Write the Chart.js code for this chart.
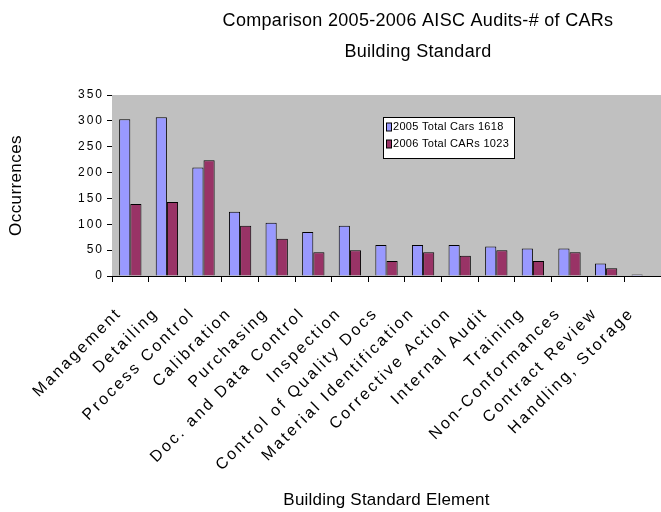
<!DOCTYPE html>
<html>
<head>
<meta charset="utf-8">
<script src="https://cdn.jsdelivr.net/npm/chart.js@4.4.1/dist/chart.umd.min.js"></script>
<style>
  html, body { margin: 0; padding: 0; background: #ffffff; }
  #wrap { width: 661px; height: 512px; position: relative; }
</style>
</head>
<body>
<div id="wrap"><canvas id="chart" width="661" height="512"></canvas></div>
<script>
// ---- data ----
const categories = [
  'Management', 'Detailing', 'Process Control', 'Calibration', 'Purchasing',
  'Doc. and Data Control', 'Inspection', 'Control of Quality Docs',
  'Material Identification', 'Corrective Action', 'Internal Audit', 'Training',
  'Non-Conformances', 'Contract Review', 'Handling, Storage'
];
const cars2005 = [303, 307, 210, 124, 103, 85, 97, 60, 60, 60, 57, 53, 53, 24, 3];
const cars2006 = [139, 143, 224, 97, 72, 46, 50, 29, 46, 39, 50, 29, 46, 15, 0];
const seriesLabels = ['2005 Total Cars 1618', '2006 Total CARs 1023'];
const yTicks = [0, 50, 100, 150, 200, 250, 300, 350];
const titleLines = ['Comparison 2005-2006 AISC Audits-# of CARs', 'Building Standard'];
const xAxisTitle = 'Building Standard Element';
const yAxisTitle = 'Occurrences';

// ---- styling ----
const FONT = "'Liberation Sans', Arial, sans-serif";
const BLUE = '#9999ff';
const PLUM = '#993366';
const PLOT_GREY = '#c0c0c0';

// Draw a piece of canvas text with extra tracking between letters.
function withSpacing(ctx, px, draw) {
  const prev = ctx.letterSpacing;
  ctx.letterSpacing = px + 'px';
  try { draw(); } finally { ctx.letterSpacing = prev || '0px'; }
}

// Category axis with tracked labels; the slanted labels hang to the left of
// their ticks, so no extra room is reserved on the right edge.
class SpacedCategoryScale extends Chart.CategoryScale {
  static id = 'spacedCategory';
  static defaults = Chart.CategoryScale.defaults;
  _calculatePadding(...args) { super._calculatePadding(...args); this.paddingRight = 0; }
  drawLabels(area) { withSpacing(this.ctx, 2.5, () => super.drawLabels(area)); }
  drawTitle() { withSpacing(this.ctx, 0.2, () => super.drawTitle()); }
}
class SpacedLinearScale extends Chart.LinearScale {
  static id = 'spacedLinear';
  static defaults = Chart.LinearScale.defaults;
  drawLabels(area) { withSpacing(this.ctx, 2, () => super.drawLabels(area)); }
  drawTitle() { withSpacing(this.ctx, 0.4, () => super.drawTitle()); }
}
Chart.register(SpacedCategoryScale, SpacedLinearScale);

// Grey plot background behind the bars.
const plotBackground = {
  id: 'plotBackground',
  beforeDatasetsDraw(chart) {
    const { ctx, chartArea: a } = chart;
    ctx.save();
    ctx.fillStyle = PLOT_GREY;
    ctx.fillRect(a.left, a.top, a.right - a.left, a.bottom - a.top);
    ctx.restore();
  }
};

// Two-line heading above the plot.
const heading = {
  id: 'heading',
  afterDraw(chart) {
    const { ctx } = chart;
    ctx.save();
    ctx.fillStyle = '#000';
    ctx.font = '18px ' + FONT;
    ctx.textAlign = 'center';
    ctx.textBaseline = 'middle';
    withSpacing(ctx, 0.3, () => {
      titleLines.forEach((line, i) => ctx.fillText(line, 418, 21 + i * 31.5));
    });
    ctx.restore();
  }
};

// Boxed legend sitting inside the plot area.
const boxedLegend = {
  id: 'boxedLegend',
  afterDraw(chart) {
    const { ctx } = chart;
    const x = 383.5, y = 117.5, w = 131, h = 41;
    ctx.save();
    ctx.fillStyle = '#ffffff';
    ctx.fillRect(x, y, w, h);
    ctx.strokeStyle = '#000';
    ctx.lineWidth = 1;
    ctx.strokeRect(x, y, w, h);
    ctx.font = '11px ' + FONT;
    ctx.textBaseline = 'middle';
    ctx.textAlign = 'left';
    chart.data.datasets.forEach((ds, i) => {
      const cy = 127 + i * 17;
      ctx.fillStyle = ds.backgroundColor;
      ctx.fillRect(386.5, cy - 4, 5, 8);
      ctx.strokeStyle = '#000';
      ctx.strokeRect(386.5, cy - 4, 5, 8);
      ctx.fillStyle = '#000';
      withSpacing(ctx, 0.3, () => ctx.fillText(ds.label, 393, cy));
    });
    ctx.restore();
  }
};

new Chart(document.getElementById('chart'), {
  type: 'bar',
  data: {
    labels: categories,
    datasets: [
      { label: seriesLabels[0], data: cars2005, backgroundColor: BLUE, borderColor: '#000', borderWidth: 1 },
      { label: seriesLabels[1], data: cars2006, backgroundColor: PLUM, borderColor: '#000', borderWidth: 1 }
    ]
  },
  options: {
    responsive: false,
    animation: false,
    devicePixelRatio: 1,
    layout: { padding: { top: 95, right: -4, bottom: 0, left: 0 } },
    datasets: { bar: { categoryPercentage: 0.61, barPercentage: 1.0 } },
    plugins: {
      legend: { display: false },
      title: { display: false },
      tooltip: { enabled: false }
    },
    scales: {
      x: {
        type: 'spacedCategory',
        grid: { offset: true, drawOnChartArea: false, tickLength: 6, color: '#000', tickColor: '#000' },
        border: { color: '#000', width: 1 },
        ticks: {
          autoSkip: false, minRotation: 45, maxRotation: 45,
          color: '#000', font: { family: FONT, size: 16 }, padding: 22, labelOffset: -11
        },
        title: { display: true, text: xAxisTitle, color: '#000', font: { family: FONT, size: 17 }, padding: { top: 0, bottom: 1 } },
        afterFit(scale) { scale.height = 236; }
      },
      y: {
        type: 'spacedLinear',
        min: yTicks[0],
        max: yTicks[yTicks.length - 1],
        grid: { drawOnChartArea: false, tickLength: 5, color: '#000', tickColor: '#000' },
        border: { color: '#000', width: 1 },
        ticks: {
          stepSize: yTicks[1] - yTicks[0],
          color: '#000', font: { family: FONT, size: 12 }, padding: 3
        },
        title: { display: true, text: yAxisTitle, color: '#000', font: { family: FONT, size: 17 }, padding: { top: 6, bottom: 0 } },
        afterFit(scale) { scale.width = 112; }
      }
    }
  },
  plugins: [plotBackground, heading, boxedLegend]
});
</script>
</body>
</html>
